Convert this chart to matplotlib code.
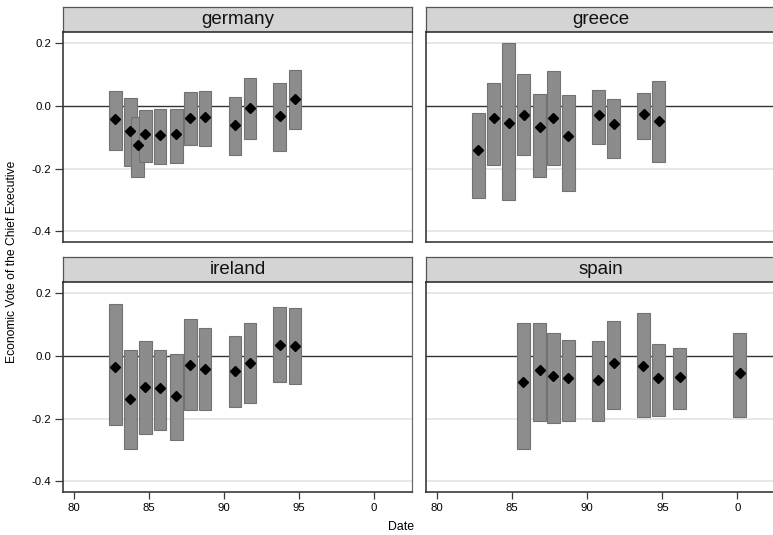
import matplotlib
matplotlib.use("Agg")
import matplotlib.pyplot as plt
import numpy as np

plt.rcParams['font.family'] = ['Liberation Sans', 'DejaVu Sans']

countries = ["germany", "greece", "ireland", "spain"]

germany_year = [1982.76, 1983.76, 1984.24, 1984.76, 1985.73, 1986.82, 1987.76, 1988.73, 1990.73, 1991.73, 1993.71, 1994.73]
germany_est = [-0.042, -0.080, -0.124, -0.090, -0.093, -0.091, -0.037, -0.035, -0.060, -0.008, -0.032, 0.021]
germany_hi = [0.049, 0.025, -0.036, -0.012, -0.011, -0.010, 0.046, 0.049, 0.028, 0.088, 0.072, 0.115]
germany_lo = [-0.141, -0.191, -0.227, -0.179, -0.186, -0.182, -0.125, -0.128, -0.158, -0.105, -0.144, -0.074]

greece_year = [1982.74, 1983.75, 1984.75, 1985.75, 1986.82, 1987.74, 1988.74, 1990.75, 1991.75, 1993.76, 1994.76]
greece_est = [-0.140, -0.038, -0.055, -0.030, -0.066, -0.037, -0.095, -0.029, -0.059, -0.025, -0.047]
greece_hi = [-0.023, 0.072, 0.200, 0.101, 0.039, 0.110, 0.034, 0.051, 0.021, 0.042, 0.079]
greece_lo = [-0.293, -0.189, -0.301, -0.156, -0.228, -0.187, -0.272, -0.121, -0.167, -0.106, -0.179]

ireland_year = [1982.76, 1983.76, 1984.76, 1985.73, 1986.82, 1987.76, 1988.73, 1990.73, 1991.73, 1993.71, 1994.73]
ireland_est = [-0.034, -0.138, -0.100, -0.103, -0.127, -0.030, -0.041, -0.048, -0.024, 0.036, 0.031]
ireland_hi = [0.166, 0.019, 0.048, 0.019, 0.007, 0.118, 0.089, 0.064, 0.104, 0.155, 0.152]
ireland_lo = [-0.221, -0.297, -0.250, -0.237, -0.269, -0.172, -0.173, -0.163, -0.149, -0.082, -0.090]

spain_year = [1985.73, 1986.82, 1987.74, 1988.74, 1990.72, 1991.75, 1993.73, 1994.74, 1996.17, 2000.16]
spain_est = [-0.084, -0.044, -0.063, -0.071, -0.076, -0.021, -0.031, -0.070, -0.068, -0.055]
spain_hi = [0.104, 0.106, 0.072, 0.050, 0.049, 0.112, 0.138, 0.038, 0.025, 0.074]
spain_lo = [-0.297, -0.208, -0.214, -0.208, -0.208, -0.170, -0.195, -0.190, -0.168, -0.195]

xticks = [1980, 1985, 1990, 1995, 2000]
xticklabels = ["80", "85", "90", "95", "0"]
yticks = [0.2, 0.0, -0.2, -0.4]
yticklabels = ["0.2", "0.0", "-0.2", "-0.4"]

data = {
    "germany": (germany_year, germany_est, germany_lo, germany_hi),
    "greece": (greece_year, greece_est, greece_lo, greece_hi),
    "ireland": (ireland_year, ireland_est, ireland_lo, ireland_hi),
    "spain": (spain_year, spain_est, spain_lo, spain_hi),
}

W, H = 773, 535
fig = plt.figure(figsize=(W / 100, H / 100), dpi=100)

def fx(px):
    return px / W

def fy(px):
    return 1 - px / H

col_x = [(62.7, 412.3), (426.0, 775.6)]
row_y = [((7.0, 32.3), (32.3, 242.3)), ((256.7, 282.3), (282.3, 492.3))]

edge = "#3a3a3a"
for i, c in enumerate(countries):
    r, k = divmod(i, 2)
    x0, x1 = col_x[k]
    (s0, s1), (p0, p1) = row_y[r]
    ax = fig.add_axes([fx(x0), fy(p1), fx(x1 - x0), (p1 - p0) / H])
    yr, est, lo, hi = data[c]
    yr = np.array(yr); est = np.array(est); lo = np.array(lo); hi = np.array(hi)
    for g in [0.2, -0.2, -0.4]:
        ax.axhline(g, color="#e3e3e3", lw=1.2, zorder=0)
    ax.axhline(0, color="#333333", lw=1.0, zorder=1)
    for xx, l, h in zip(yr, lo, hi):
        ax.bar(xx, h - l, bottom=l, width=0.85, color="#8c8c8c",
               edgecolor="#727272", linewidth=0.8, zorder=2)
    ax.plot(yr, est, linestyle="none", marker="D", markersize=5.2,
            color="black", zorder=4)
    ax.set_xlim(1979.25, 2002.55)
    ax.set_ylim(-0.435, 0.235)
    for sp in ax.spines.values():
        sp.set_color("#555555")
        sp.set_linewidth(0.9)
    ax.spines['left'].set_color(edge)
    ax.spines['bottom'].set_color(edge)
    ax.spines['left'].set_linewidth(1.2)
    ax.spines['bottom'].set_linewidth(1.2)
    ax.set_xticks(xticks)
    ax.set_yticks(yticks)
    if r == 1:
        ax.set_xticklabels(xticklabels)
        ax.tick_params(axis='x', length=5, width=0.9, color=edge, labelsize=8.2, pad=3)
    else:
        ax.tick_params(axis='x', length=0, labelbottom=False)
    if k == 0:
        ax.set_yticklabels(yticklabels)
        ax.tick_params(axis='y', length=6, width=0.9, color=edge, labelsize=8.2, pad=2)
    else:
        ax.tick_params(axis='y', length=0, labelleft=False)
    ax.spines['right'].set_color("#6a6a6a")
    ax.spines['top'].set_visible(False)

    sax = fig.add_axes([fx(x0), fy(s1), fx(x1 - x0), (s1 - s0) / H])
    sax.set_facecolor("#d4d4d4")
    sax.set_xticks([]); sax.set_yticks([])
    for sp in sax.spines.values():
        sp.set_color("#555555")
        sp.set_linewidth(0.9)
    sax.spines['bottom'].set_color("#222222")
    sax.spines['bottom'].set_linewidth(1.1)
    sax.text(0.5 if k == 0 else (412.3 - 62.7) / 2 / (x1 - x0) + 0.0, 0.5, c,
             transform=sax.transAxes, ha="center", va="center",
             fontsize=13.5, color="#111111")

fig.text(fx(12), fy(262), "Economic Vote of the Chief Executive", rotation=90,
         ha="center", va="center", fontsize=8.7)
fig.text(fx(401), fy(527), "Date", ha="center", va="center", fontsize=8.9)

fig.savefig("out.png", dpi=100)
